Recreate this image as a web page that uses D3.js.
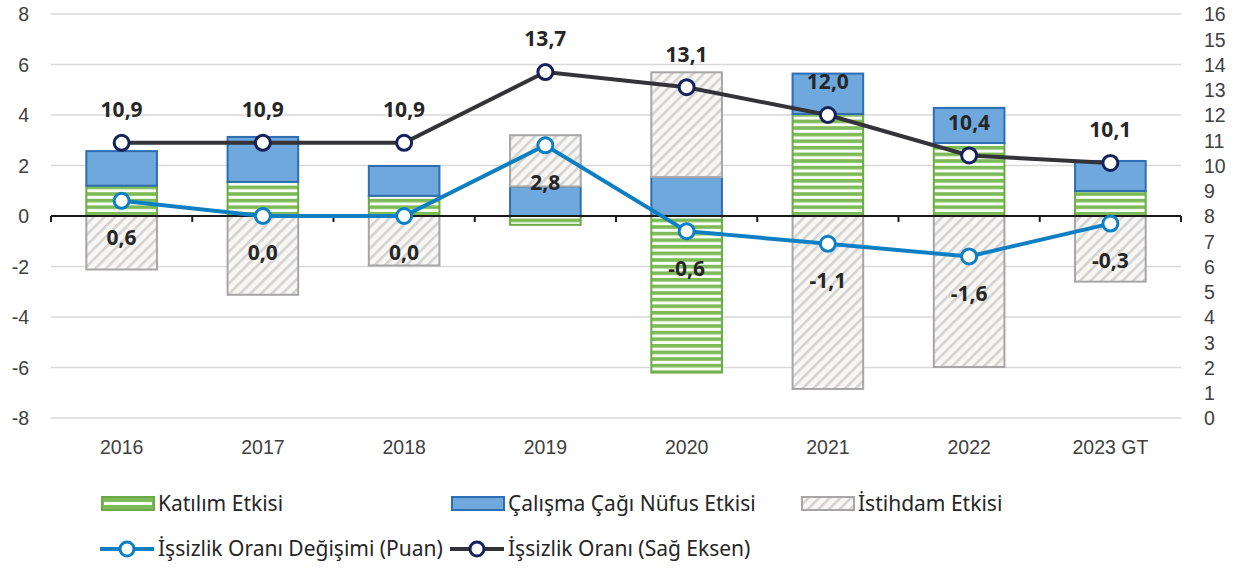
<!DOCTYPE html>
<html lang="tr">
<head>
<meta charset="UTF-8">
<title>İşsizlik Oranı Değişimi</title>
<script src="https://d3js.org/d3.v7.min.js"></script>
<style>
  body { margin: 0; background: #fff; font-family: "Noto Sans", "Open Sans", sans-serif; }
  .axis text { font-size: 19.5px; fill: #404040; }
  .lbl { font-size: 21px; font-weight: bold; fill: #262626; text-anchor: middle; }
  .leg { font-size: 21px; fill: #262626; }
</style>
</head>
<body>
<svg width="1249" height="570"></svg>
<script>
// categories and series
const years = ["2016", "2017", "2018", "2019", "2020", "2021", "2022", "2023 GT"];
const katilim = [1.2, 1.35, 0.8, -0.35, -6.2, 4.04, 2.89, 0.99];
const calisma = [1.37, 1.78, 1.18, 1.17, 1.54, 1.6, 1.39, 1.19];
const istihdam = [-2.12, -3.12, -1.96, 2.03, 4.15, -6.85, -5.98, -2.6];
const degisim = [0.6, 0.0, 0.0, 2.8, -0.6, -1.1, -1.6, -0.3];
const oran = [10.9, 10.9, 10.9, 13.7, 13.1, 12.0, 10.4, 10.1];
const leftTicks = [-8, -6, -4, -2, 0, 2, 4, 6, 8];
const rightTicks = d3.range(0, 17);
const barNames = ["Katılım Etkisi", "Çalışma Çağı Nüfus Etkisi", "İstihdam Etkisi"];
const lineNames = ["İşsizlik Oranı Değişimi (Puan)", "İşsizlik Oranı (Sağ Eksen)"];

const fmt = v => d3.format(".1f")(v).replace(".", ",").replace("−", "-");

const margin = {top: 14, right: 68, bottom: 152, left: 51};
const W = 1249, H = 570;
const width = W - margin.left - margin.right;
const height = H - margin.top - margin.bottom;

const svg = d3.select("svg");
const defs = svg.append("defs");

// green horizontal stripes
const pg = defs.append("pattern").attr("id", "green").attr("patternUnits", "userSpaceOnUse")
  .attr("width", 8).attr("height", 6.6);
pg.append("rect").attr("width", 8).attr("height", 6.6).attr("fill", "#fbfdf9");
pg.append("rect").attr("width", 8).attr("height", 3.6).attr("fill", "#7cbb57");

// grey diagonal hatch
const ph = defs.append("pattern").attr("id", "hatch").attr("patternUnits", "userSpaceOnUse")
  .attr("width", 7.5).attr("height", 10).attr("patternTransform", "rotate(45)");
ph.append("rect").attr("width", 7.5).attr("height", 10).attr("fill", "#f9f7f4");
ph.append("rect").attr("width", 2.6).attr("height", 10).attr("fill", "#d3d3d3");

const g = svg.append("g").attr("transform", `translate(${margin.left},${margin.top})`);

const x = d3.scaleBand().domain(years).range([0, width]).paddingInner(0.5).paddingOuter(0.25);
const xb = d3.scaleBand().domain(years).range([0, width]);
const y = d3.scaleLinear().domain([-8, 8]).range([height, 0]);
const y2 = d3.scaleLinear().domain([0, 16]).range([height, 0]);

// gridlines
g.append("g").selectAll("line").data(leftTicks.filter(t => t !== 0)).join("line")
  .attr("x1", 0).attr("x2", width)
  .attr("y1", d => y(d)).attr("y2", d => y(d))
  .attr("stroke", "#d9d9d9").attr("stroke-width", 1.5);

// left axis labels
g.append("g").attr("class", "axis")
  .call(d3.axisLeft(y).tickValues(leftTicks).tickSize(0).tickPadding(22).tickFormat(d => String(d)))
  .call(a => a.select(".domain").remove())
  .selectAll("text").attr("dy", "0.35em");

// right axis labels
g.append("g").attr("class", "axis").attr("transform", `translate(${width},0)`)
  .call(d3.axisRight(y2).tickValues(rightTicks).tickSize(0).tickPadding(23).tickFormat(d => String(d)))
  .call(a => a.select(".domain").remove())
  .selectAll("text").attr("dy", "0.35em");

// stacked bars
const rows = years.map((yr, i) => ({year: yr, katilim: katilim[i], calisma: calisma[i], istihdam: istihdam[i]}));
const keys = ["katilim", "calisma", "istihdam"];
const stack = d3.stack().keys(keys).offset(d3.stackOffsetDiverging)(rows);
const fills = {katilim: "url(#green)", calisma: "#6fa8dc", istihdam: "url(#hatch)"};
const strokes = {katilim: "#6aab48", calisma: "#2f6db3", istihdam: "#a6a6a6"};

g.append("g").selectAll("g").data(stack).join("g")
  .attr("fill", d => fills[d.key]).attr("stroke", d => strokes[d.key]).attr("stroke-width", 2)
  .selectAll("rect").data(d => d).join("rect")
  .attr("x", d => x(d.data.year))
  .attr("width", x.bandwidth())
  .attr("y", d => y(Math.max(d[0], d[1])))
  .attr("height", d => Math.abs(y(d[0]) - y(d[1])));

// x axis line with ticks
g.append("g").attr("transform", `translate(0,${y(0)})`)
  .call(d3.axisBottom(xb).tickSize(0).tickFormat(""))
  .call(a => a.select(".domain").attr("stroke", "#1a1a1a").attr("stroke-width", 2).attr("d", `M0,0H${width}`))
  .call(a => a.append("g").selectAll("line").data(d3.range(years.length + 1)).join("line")
    .attr("x1", i => i * xb.step()).attr("x2", i => i * xb.step())
    .attr("y1", 0).attr("y2", 6).attr("stroke", "#1a1a1a").attr("stroke-width", 2));

// category labels
g.append("g").attr("class", "axis").attr("transform", `translate(0,${height})`)
  .call(d3.axisBottom(xb).tickSize(0).tickPadding(22))
  .call(a => a.select(".domain").remove());

const cx = yr => xb(yr) + xb.bandwidth() / 2;

// lines
const lineChg = d3.line().x((d, i) => cx(years[i])).y(d => y(d));
const lineRate = d3.line().x((d, i) => cx(years[i])).y(d => y2(d));

g.append("path").datum(degisim).attr("d", lineChg)
  .attr("fill", "none").attr("stroke", "#0e7fc3").attr("stroke-width", 4);
g.append("path").datum(oran).attr("d", lineRate)
  .attr("fill", "none").attr("stroke", "#333338").attr("stroke-width", 4);

g.append("g").selectAll("circle").data(degisim).join("circle")
  .attr("cx", (d, i) => cx(years[i])).attr("cy", d => y(d)).attr("r", 7.5)
  .attr("fill", "#fff").attr("stroke", "#0e7fc3").attr("stroke-width", 3);
g.append("g").selectAll("circle").data(oran).join("circle")
  .attr("cx", (d, i) => cx(years[i])).attr("cy", d => y2(d)).attr("r", 7.5)
  .attr("fill", "#fff").attr("stroke", "#15215a").attr("stroke-width", 3);

// value labels
g.append("g").selectAll("text").data(oran).join("text").attr("class", "lbl")
  .attr("x", (d, i) => cx(years[i])).attr("y", d => y2(d) - 33).attr("dy", "0.35em")
  .text(fmt);
g.append("g").selectAll("text").data(degisim).join("text").attr("class", "lbl")
  .attr("x", (d, i) => cx(years[i])).attr("y", d => y(d) + 37).attr("dy", "0.35em")
  .text(fmt);

// legend
const leg = svg.append("g");
const row1 = [{x: 102, key: "katilim"}, {x: 452, key: "calisma"}, {x: 802, key: "istihdam"}];
row1.forEach((r, i) => {
  leg.append("rect").attr("x", r.x).attr("y", 497).attr("width", 52).attr("height", 13)
    .attr("fill", r.key === "katilim" ? "#7cbb57" : fills[r.key])
    .attr("stroke", strokes[r.key]).attr("stroke-width", 2);
  if (r.key === "katilim")
    leg.append("rect").attr("x", r.x + 2).attr("y", 502).attr("width", 48).attr("height", 3).attr("fill", "#fff");
  leg.append("text").attr("class", "leg").attr("x", r.x + 56).attr("y", 504).attr("dy", "0.35em").text(barNames[i]);
});
const row2 = [{x: 100, c: "#0e7fc3", m: "#0e7fc3"}, {x: 450, c: "#333338", m: "#15215a"}];
row2.forEach((r, i) => {
  leg.append("line").attr("x1", r.x).attr("x2", r.x + 54).attr("y1", 549).attr("y2", 549)
    .attr("stroke", r.c).attr("stroke-width", 4);
  leg.append("circle").attr("cx", r.x + 27).attr("cy", 549).attr("r", 7)
    .attr("fill", "#fff").attr("stroke", r.m).attr("stroke-width", 3);
  leg.append("text").attr("class", "leg").attr("x", r.x + 58).attr("y", 549).attr("dy", "0.35em").text(lineNames[i]);
});
</script>
</body>
</html>
